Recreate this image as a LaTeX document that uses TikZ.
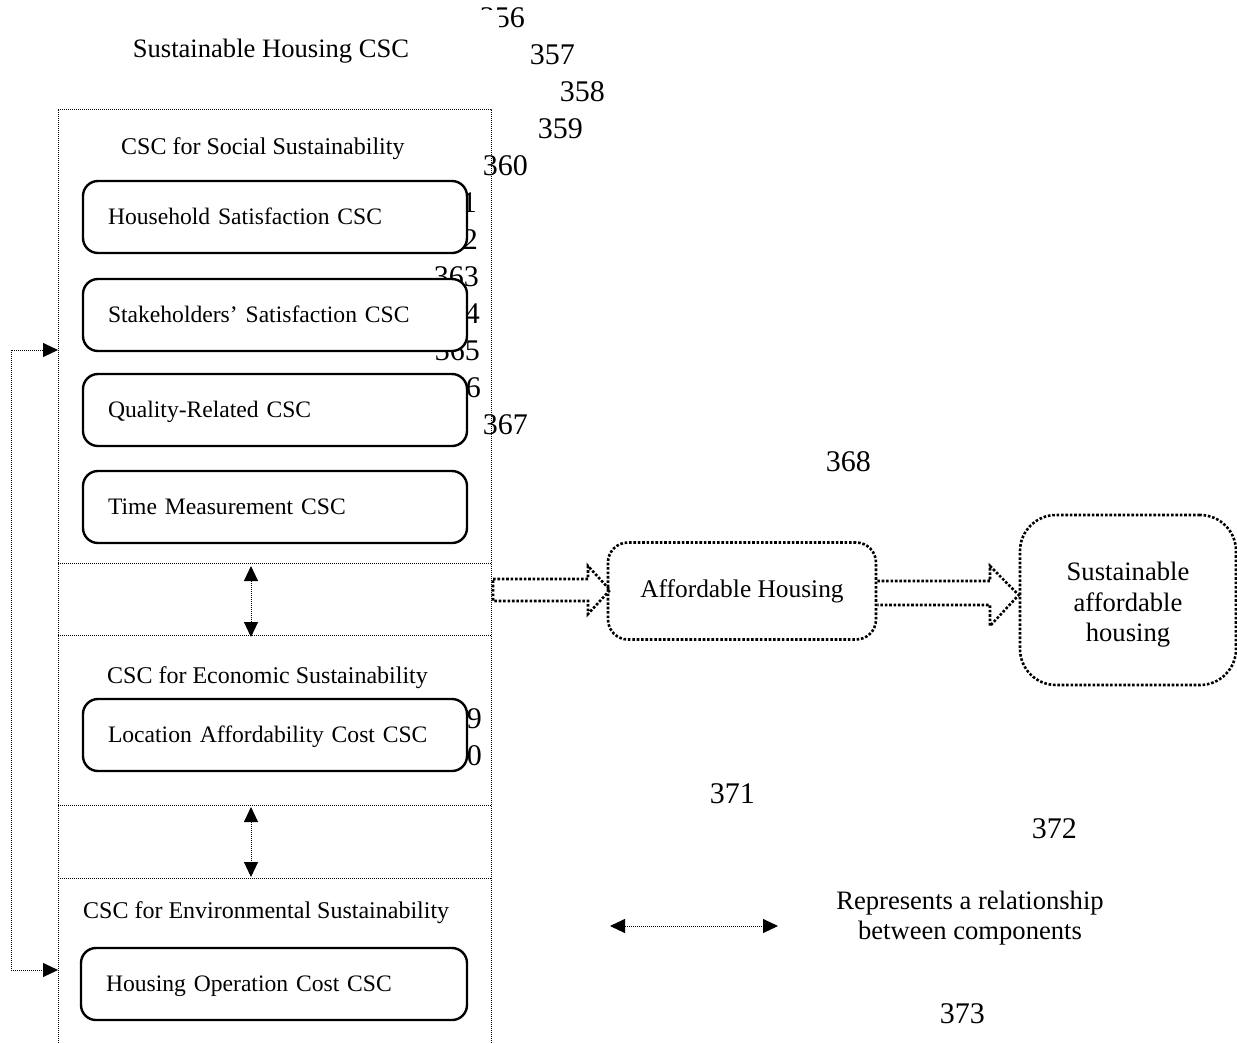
\documentclass[tikz,border=0pt]{standalone}
\usepackage{fontspec}
\setmainfont{Liberation Serif}
\usetikzlibrary{arrows.meta}
\begin{document}
\begin{tikzpicture}[x=1pt,y=-1pt,
  txt/.style={font=\fontsize{24}{29}\selectfont, inner sep=0pt},
  lnum/.style={font=\fontsize{30}{30}\selectfont, inner sep=0pt, anchor=east},
  cscbox/.style={draw, line width=2.4pt, rounded corners=15pt, fill=white,
     minimum height=72pt, text width=334pt, inner xsep=25pt, inner ysep=0pt, align=left,
     text height=18pt, text depth=2.4pt,
     font=\fontsize{23.6}{28}\selectfont},
  thindot/.style={line width=1pt, dash pattern=on 1pt off 1pt},
  thickdot/.style={line width=2.6pt, dash pattern=on 2.6pt off 1.8pt},
  dtip/.style={{Triangle[length=15pt,width=14pt]}-{Triangle[length=15pt,width=14pt]}},
]
\useasboundingbox (0,0) rectangle (1237,1042);

% line numbers (partly hidden behind boxes)
\node[lnum] (n356) at (525,18) {356};
\node[lnum] (n357) at (575,55) {357};
\node[lnum] (n358) at (605,92) {358};
\node[lnum] (n359) at (583,129) {359};
\node[lnum] (n360) at (528,166) {360};
\node[lnum] (n361) at (477,203) {361};
\node[lnum] (n362) at (478,240) {362};
\node[lnum] (n363) at (479,277) {363};
\node[lnum] (n364) at (480,314) {364};
\node[lnum] (n365) at (480,351) {365};
\node[lnum] (n366) at (481,388) {366};
\node[lnum] (n367) at (528,425) {367};
\node[lnum] (n368) at (871,462) {368};
\node[lnum] (n369) at (482,719) {369};
\node[lnum] (n370) at (482,756) {370};
\node[lnum] (n371) at (755,794) {371};
\node[lnum] (n372) at (1077,829) {372};
\node[lnum] (n373) at (985,1014) {373};

% title (white text box hides part of 356)
\node[fill=white, minimum width=380pt, minimum height=70pt, inner sep=0pt] (titlebox) at (309,45) {};
\node[txt, font=\fontsize{26.6}{30}\selectfont, anchor=base] (title) at (271,57) {Sustainable Housing CSC};

% outer dotted container and separators
\coordinate (oTL) at (58,109);
\coordinate (oTR) at (491,109);
\draw[thindot] (58,1045) -- (oTL) -- (oTR) -- (491,1045);
\draw[thindot] (58,563) -- (491,563);
\draw[thindot] (58,635) -- (491,635);
\draw[thindot] (58,805) -- (491,805);
\draw[thindot] (58,878) -- (491,878);

% section titles
\node[txt, anchor=base west] (social) at (121,154) {CSC for Social Sustainability};
\node[txt, anchor=base west] (econ) at (107,683) {CSC for Economic Sustainability};
\node[txt, anchor=base west] (env) at (83,918) {CSC for Environmental Sustainability};

% component boxes
\node[cscbox, minimum width=384pt] (hh) at (275,217) {Household Satisfaction CSC};
\node[cscbox, minimum width=384pt] (sh) at (275,315) {Stakeholders’ Satisfaction CSC};
\node[cscbox, minimum width=384pt] (qr) at (275,410) {Quality-Related CSC};
\node[cscbox, minimum width=384pt] (tm) at (275,507) {Time Measurement CSC};
\node[cscbox, minimum width=384pt] (la) at (275,735) {Location Affordability Cost CSC};
\node[cscbox, minimum width=386pt, text width=336pt] (ho) at (274,984) {Housing Operation Cost CSC};

% vertical relationship arrows
\coordinate (r1a) at (251,566);
\coordinate (r1b) at (251,637);
\coordinate (r2a) at (251,807);
\coordinate (r2b) at (251,877);
\draw[thindot, dtip] (r1a) -- (r1b);
\draw[thindot, dtip] (r2a) -- (r2b);

% left feedback connector
\coordinate (inS) at (58,350);
\coordinate (inE) at (58,970);
\draw[thindot, dtip] (inS) -- (11,350) -- (11,970) -- (inE);

% affordable housing boxes
\node[draw, thickdot, rounded corners=20pt, minimum width=268pt, minimum height=97pt,
      font=\fontsize{25.4}{30}\selectfont] (ah) at (742,591) {Affordable Housing};
\node[draw, thickdot, rounded corners=36pt, minimum width=216pt, minimum height=170pt] (sah) at (1128,600) {};
\node[align=center, inner sep=0pt, font=\fontsize{26.6}{30.5}\selectfont] (sahtxt) at (1128,605)
      {Sustainable\\affordable\\housing};

% block arrows
\draw[thickdot] (493,579) -- (588,579) -- (588,566) -- (610,590) -- (588,614) -- (588,601) -- (493,601) -- cycle;
\draw[thickdot] (ah.east |- 0,581) -- (990,581) -- (990,566) -- (sah.west |- 0,595) -- (990,626) -- (990,605) -- (ah.east |- 0,605);

% legend
\coordinate (lgA) at (610,926);
\coordinate (lgB) at (778,926);
\draw[thindot, dtip] (lgA) -- (lgB);
\node[align=center, inner sep=0pt, font=\fontsize{26.6}{30}\selectfont] (lgtxt) at (970,918)
  {Represents a relationship\\between components};
\end{tikzpicture}
\end{document}
